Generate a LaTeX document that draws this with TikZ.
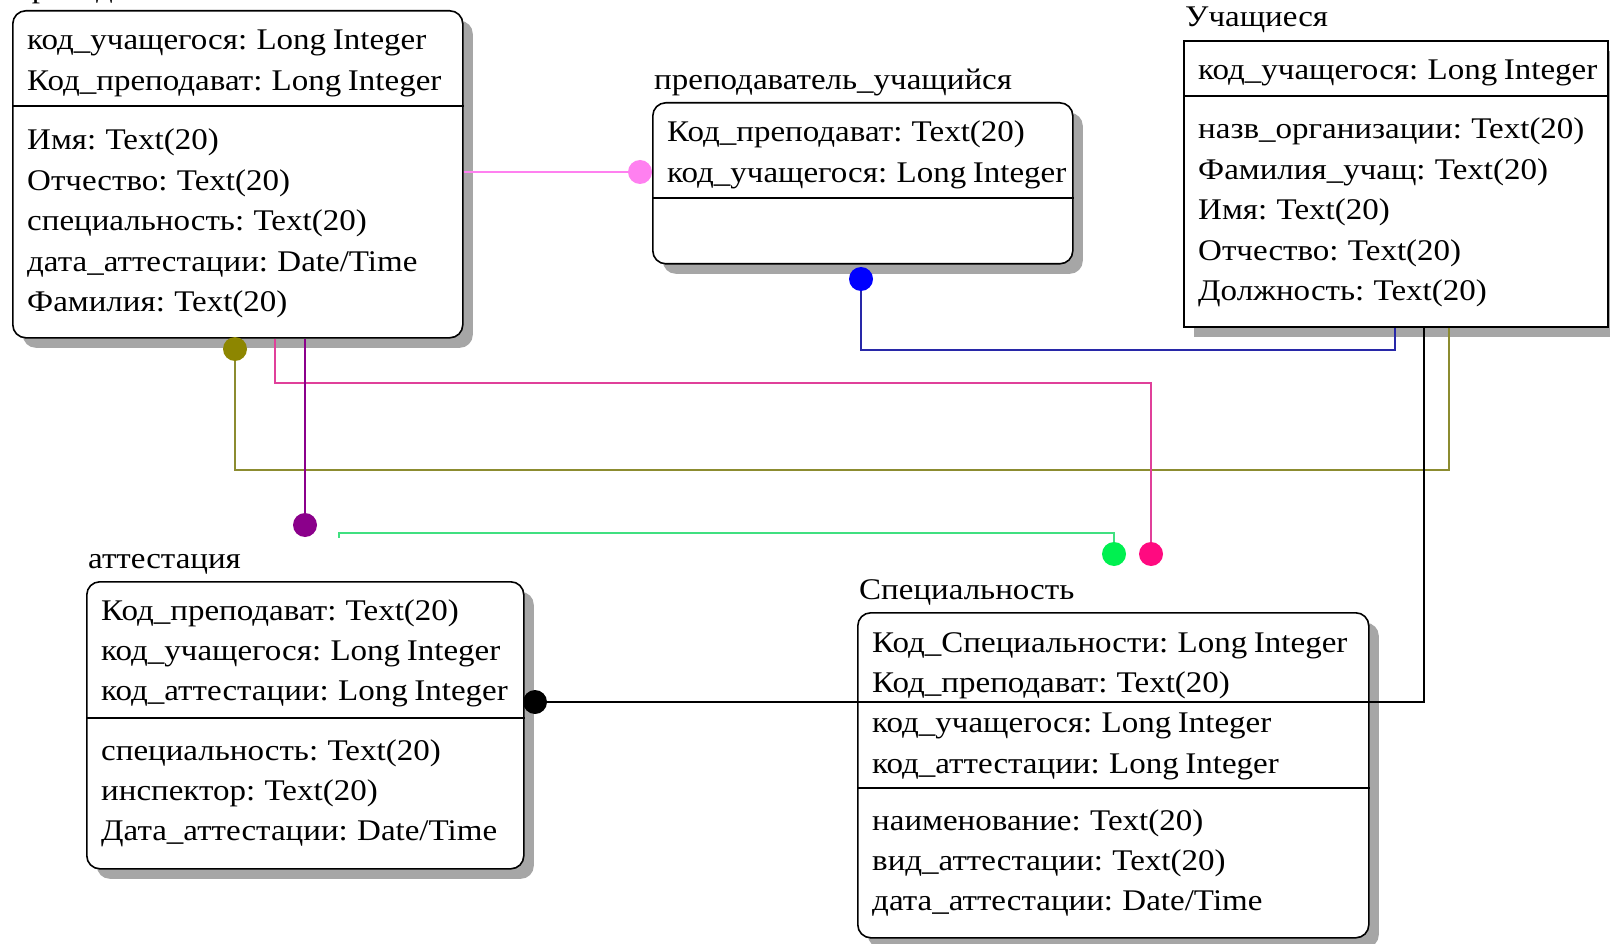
\documentclass[tikz,border=0pt]{standalone}
\usepackage{fontspec}
\setmainfont[FakeStretch=1.1, WordSpace=0.8]{Liberation Serif}
\usetikzlibrary{shadows}

\newcommand{\fldfont}{\fontsize{30}{40}\selectfont}

\definecolor{lnPink}{HTML}{FF80F0}
\definecolor{lnBlue}{HTML}{2828A8}
\definecolor{lnOlive}{HTML}{8C8C30}
\definecolor{lnMag}{HTML}{E0409A}
\definecolor{lnPur}{HTML}{8B008B}
\definecolor{lnGrn}{HTML}{40E080}
\definecolor{dtMag}{HTML}{FF0A80}
\definecolor{dtGrn}{HTML}{00F050}

\tikzset{
  ent/.style={draw, line width=1.6pt, fill=white, rounded corners=13pt, anchor=north west, inner sep=0pt,
    drop shadow={shadow xshift=10pt, shadow yshift=-10pt, fill=gray!70, opacity=1}},
  fld/.style={anchor=north west, inner sep=0pt, text height=29pt, text depth=11pt, font=\fldfont},
  ttl/.style={anchor=base west, inner sep=0pt, font=\fldfont},
  sep/.style={line width=1.6pt},
  dot/.style={circle, inner sep=0pt, minimum size=24pt},
  ln/.style={line width=1.6pt}
}

\begin{document}
\begin{tikzpicture}[x=1pt, y=-1pt]
\useasboundingbox (0,0) rectangle (1610,944);
\clip (0,0) rectangle (1610,944);
\fill[white] (0,0) rectangle (1610,944);

% преподаватели
\node[ent, minimum width=450pt, minimum height=327pt] (prep) at (12,10) {};
\node[ttl] (prepT) at (14,-2) {преподаватели};
\node[fld, anchor=base west] (prep1) at (27,50) {код\_учащегося: Long Integer};
\node[fld] (prep2) at (prep1.south west) {Код\_преподават: Long Integer};
\draw[sep] (prep.west |- 0,106) -- (prep.east |- 0,106);
\node[fld, anchor=base west] (prep3) at (27,150) {Имя: Text(20)};
\node[fld] (prep4) at (prep3.south west) {Отчество: Text(20)};
\node[fld] (prep5) at (prep4.south west) {специальность: Text(20)};
\node[fld] (prep6) at (prep5.south west) {дата\_аттестации: Date/Time};
\node[fld] (prep7) at (prep6.south west) {Фамилия: Text(20)};

% преподаватель_учащийся
\node[ent, minimum width=420pt, minimum height=161pt] (link) at (652,102) {};
\node[ttl] (linkT) at (654,90) {преподаватель\_учащийся};
\node[fld, anchor=base west] (link1) at (667,142) {Код\_преподават: Text(20)};
\node[fld] (link2) at (link1.south west) {код\_учащегося: Long Integer};
\draw[sep] (link.west |- 0,198) -- (link.east |- 0,198);

% Учащиеся
\node[ent, rounded corners=0pt, minimum width=424pt, minimum height=286pt] (uch) at (1183,40) {};
\node[ttl] (uchT) at (1185,27) {Учащиеся};
\node[fld, anchor=base west] (uch1) at (1198,80) {код\_учащегося: Long Integer};
\draw[sep] (uch.west |- 0,96) -- (uch.east |- 0,96);
\node[fld, anchor=base west] (uch2) at (1198,139) {назв\_организации: Text(20)};
\node[fld] (uch3) at (uch2.south west) {Фамилия\_учащ: Text(20)};
\node[fld] (uch4) at (uch3.south west) {Имя: Text(20)};
\node[fld] (uch5) at (uch4.south west) {Отчество: Text(20)};
\node[fld] (uch6) at (uch5.south west) {Должность: Text(20)};

% аттестация
\node[ent, minimum width=437pt, minimum height=287pt] (att) at (86,581) {};
\node[ttl] (attT) at (88,568) {аттестация};
\node[fld, anchor=base west] (att1) at (101,620) {Код\_преподават: Text(20)};
\node[fld] (att2) at (att1.south west) {код\_учащегося: Long Integer};
\node[fld] (att3) at (att2.south west) {код\_аттестации: Long Integer};
\draw[sep] (att.west |- 0,718) -- (att.east |- 0,718);
\node[fld, anchor=base west] (att4) at (101,760) {специальность: Text(20)};
\node[fld] (att5) at (att4.south west) {инспектор: Text(20)};
\node[fld] (att6) at (att5.south west) {Дата\_аттестации: Date/Time};

% Специальность
\node[ent, minimum width=511pt, minimum height=325pt] (spec) at (857,612) {};
\node[ttl] (specT) at (859,599) {Специальность};
\node[fld, anchor=base west] (spec1) at (872,652) {Код\_Специальности: Long Integer};
\node[fld] (spec2) at (spec1.south west) {Код\_преподават: Text(20)};
\node[fld] (spec3) at (spec2.south west) {код\_учащегося: Long Integer};
\node[fld] (spec4) at (spec3.south west) {код\_аттестации: Long Integer};
\draw[sep] (spec.west |- 0,788) -- (spec.east |- 0,788);
\node[fld, anchor=base west] (spec5) at (872,830) {наименование: Text(20)};
\node[fld] (spec6) at (spec5.south west) {вид\_аттестации: Text(20)};
\node[fld] (spec7) at (spec6.south west) {дата\_аттестации: Date/Time};

% links
\node[dot, fill=lnPink] (dPk) at (640,172) {};
\draw[ln, lnPink] (prep.east |- dPk) -- (dPk);

\node[dot, fill=blue] (dBl) at (861,279) {};
\draw[ln, lnBlue] (dBl) -- (dBl |- 0,350) -| (uch.south -| 1395,0);

\node[dot, fill=olive] (dOl) at (235,349) {};
\draw[ln, lnOlive] (dOl) -- (dOl |- 0,470) -| (uch.south -| 1449,0);

\node[dot, fill=dtMag] (dMg) at (1151,554) {};
\draw[ln, lnMag] (prep.south -| 275,0) |- (dMg |- 0,383) -- (dMg);

\node[dot, fill=lnPur] (dPu) at (305,525) {};
\draw[ln, lnPur] (prep.south -| dPu) -- (dPu);

\node[dot, fill=dtGrn] (dGr) at (1114,554) {};
\coordinate (gEnd) at (339,538);
\draw[ln, lnGrn] (dGr) -- (dGr |- 0,533) -| (gEnd);

\node[dot, fill=black] (dBk) at (535,702) {};
\draw[ln] (dBk) -- (dBk -| 1424,0) -- (uch.south -| 1424,0);
\end{tikzpicture}
\end{document}
